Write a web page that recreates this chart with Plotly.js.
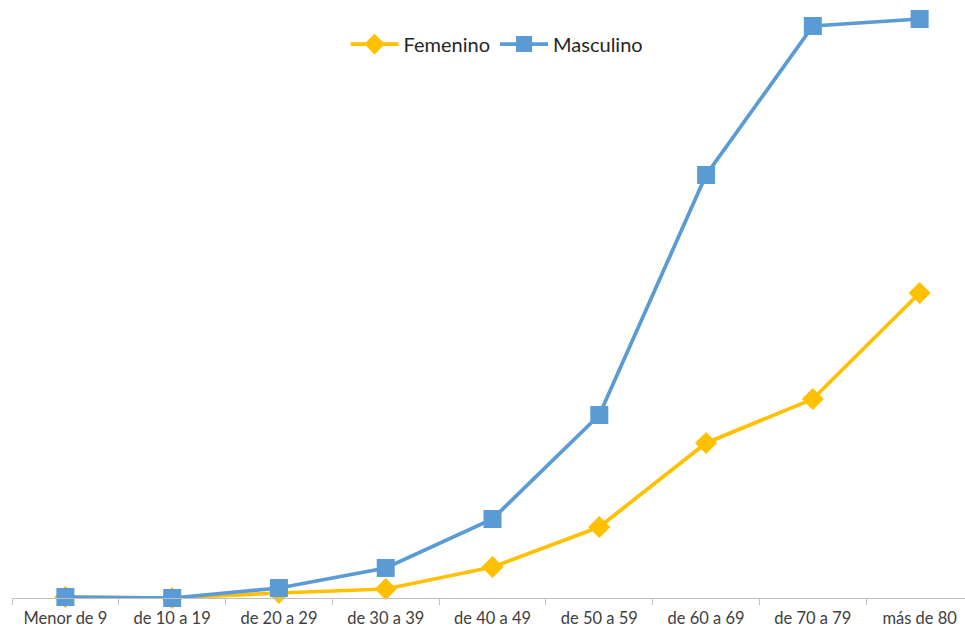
<!DOCTYPE html>
<html>
<head>
<meta charset="utf-8">
<script src="https://cdn.plot.ly/plotly-3.0.1.min.js"></script>
<style>html,body{margin:0;padding:0;background:#fff;}#chart{width:965px;height:628px;}</style>
</head>
<body>
<div id="chart"></div>
<script>
const categories = ["Menor de 9","de 10 a 19","de 20 a 29","de 30 a 39","de 40 a 49","de 50 a 59","de 60 a 69","de 70 a 79","más de 80"];
const femenino = [1, 0, 5, 9, 31, 71, 155, 199, 305];
const masculino = [1, 0, 10, 30, 79, 183, 423, 572, 579];

const traces = [
  {
    x: categories, y: femenino, name: "Femenino", type: "scatter", mode: "lines+markers",
    line: {color: "#FFC000", width: 3.75},
    marker: {symbol: "diamond", size: 17, color: "#FFC000"},
    cliponaxis: false
  },
  {
    x: categories, y: masculino, name: "Masculino", type: "scatter", mode: "lines+markers",
    line: {color: "#5B9BD5", width: 3.75},
    marker: {symbol: "square", size: 18, color: "#5B9BD5"},
    cliponaxis: false
  }
];

const layout = {
  width: 965, height: 628,
  margin: {l: 12, r: 0, t: 10, b: 30},
  paper_bgcolor: "#fff", plot_bgcolor: "#fff",
  font: {family: "Lato, 'Open Sans', sans-serif", color: "#595959"},
  showlegend: true,
  legend: {orientation: "h", x: 0.509, xanchor: "center", y: 0.942, yanchor: "middle",
           font: {size: 20, color: "#262626"}, itemwidth: 48, traceorder: "normal"},
  xaxis: {
    type: "category", range: [-0.5, 8.425], showgrid: false, zeroline: false,
    showline: true, linecolor: "#BFBFBF", linewidth: 1,
    ticks: "outside", ticklen: 6, tickcolor: "#BFBFBF", tickson: "boundaries",
    ticklabelstandoff: 5,
    tickfont: {size: 16.5, color: "#404040"}, fixedrange: true
  },
  yaxis: {
    range: [0, 588], showgrid: false, zeroline: false, showline: false,
    showticklabels: false, ticks: "", fixedrange: true
  }
};

Plotly.newPlot("chart", traces, layout, {displayModeBar: false, staticPlot: true});
</script>
</body>
</html>
